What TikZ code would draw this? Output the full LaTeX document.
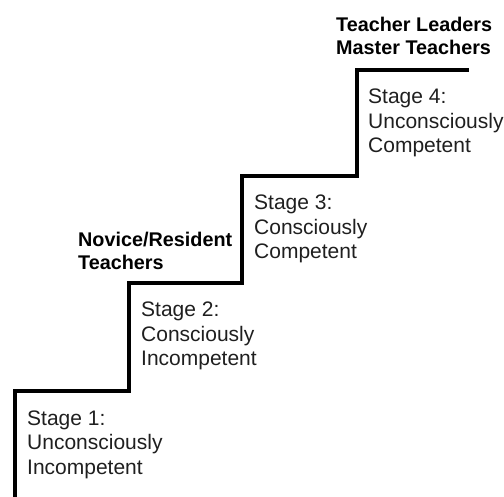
\documentclass[tikz,border=0pt]{standalone}
\usepackage{fontspec}
\setmainfont{Liberation Sans}
% a left-aligned block whose baseline is that of its first line
\newcommand{\toplines}[1]{\begin{tabular}[t]{@{}l@{}}#1\end{tabular}}
\begin{document}
\begin{tikzpicture}[x=1pt,y=-1pt,
  stair/.style={line width=4pt,line join=miter,draw=black},
  stagetext/.style={anchor=base west,inner sep=0pt,text=black!88,
    font=\fontsize{21}{24.5}\selectfont},
  grouplabel/.style={anchor=base west,inner sep=0pt,text=black,
    font=\fontsize{19.8}{22.5}\selectfont\bfseries}]
  \useasboundingbox (0,0) rectangle (504,497);
  % the four steps
  \coordinate (s0) at (15,497);
  \coordinate (s1) at (15,391);
  \coordinate (t1) at (129,391);
  \coordinate (s2) at (129,283);
  \coordinate (t2) at (242,283);
  \coordinate (s3) at (242,176);
  \coordinate (t3) at (357,176);
  \coordinate (s4) at (357,70);
  \coordinate (t4) at (469,70);
  \draw[stair] (s0) -- (s1) -- (t1) -- (s2) -- (t2) -- (s3) -- (t3) -- (s4) -- (t4);
  % stage descriptions under each tread
  \node[stagetext] (st1) at (27,425) {\toplines{Stage 1:\\Unconsciously\\Incompetent}};
  \node[stagetext] (st2) at (141,317) {\toplines{Stage 2:\\Consciously\\Incompetent}};
  \node[stagetext] (st3) at (254,210) {\toplines{Stage 3:\\Consciously\\Competent}};
  \node[stagetext] (st4) at (368,104) {\toplines{Stage 4:\\Unconsciously\\Competent}};
  % teacher groups
  \node[grouplabel] (novice) at (78,247) {\toplines{Novice/Resident\\Teachers}};
  \node[grouplabel] (leaders) at (336,32) {\toplines{Teacher Leaders\\Master Teachers}};
\end{tikzpicture}
\end{document}
